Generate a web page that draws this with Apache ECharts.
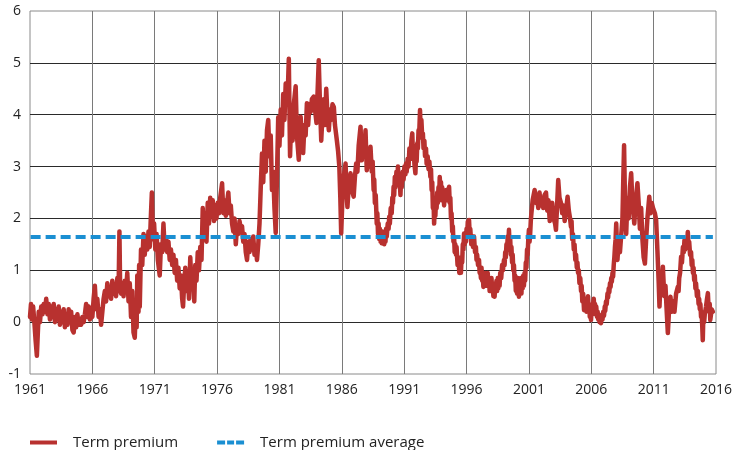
<!DOCTYPE html>
<html>
<head>
<meta charset="utf-8">
<script src="https://cdn.jsdelivr.net/npm/echarts@6/dist/echarts.min.js"></script>
<style>
html,body{margin:0;padding:0;background:#fff;}
#chart{width:736px;height:450px;}
</style>
</head>
<body>
<div id="chart"></div>
<script>
// Axis ticks
var baseYear = 1961;
var endYear = 2016;
var yTicks = [-1, 0, 1, 2, 3, 4, 5, 6];
var seriesNames = ['Term premium', 'Term premium average'];

// Term premium average level
var averageValue = 1.64;
var averageSpan = [1961.05, 2015.75];

// Term premium series: [year, percentage points]
var termPremium = [
[1961.00,0.10],[1961.08,0.35],[1961.15,0.05],[1961.25,0.30],[1961.35,0.00],[1961.45,-0.35],[1961.55,-0.65],[1961.62,-0.25],[1961.70,0.20],[1961.80,0.00],
[1961.90,0.30],[1962.00,0.15],[1962.10,0.35],[1962.20,0.20],[1962.30,0.45],[1962.40,0.15],[1962.50,0.35],[1962.60,0.05],[1962.70,0.30],[1962.80,0.10],
[1962.90,0.35],[1963.00,0.00],[1963.10,0.25],[1963.20,0.05],[1963.30,0.30],[1963.40,-0.05],[1963.50,0.20],[1963.60,0.00],[1963.70,0.25],[1963.80,-0.10],
[1963.90,0.10],[1964.00,-0.05],[1964.10,0.25],[1964.20,0.05],[1964.30,0.20],[1964.40,-0.15],[1964.50,-0.20],[1964.60,0.10],[1964.70,-0.10],[1964.80,0.15],
[1964.90,-0.05],[1965.00,0.05],[1965.10,-0.05],[1965.20,0.10],[1965.30,0.00],[1965.40,0.15],[1965.50,0.35],[1965.60,0.10],[1965.70,0.30],[1965.80,0.05],
[1965.90,0.20],[1966.00,0.10],[1966.10,0.45],[1966.20,0.70],[1966.30,0.25],[1966.40,0.45],[1966.50,0.10],[1966.60,0.25],[1966.70,-0.05],[1966.80,0.20],
[1966.90,0.45],[1967.00,0.60],[1967.10,0.40],[1967.20,0.75],[1967.30,0.50],[1967.40,0.65],[1967.50,0.45],[1967.60,0.80],[1967.70,0.55],[1967.80,0.70],
[1967.90,0.50],[1968.00,0.85],[1968.10,0.60],[1968.17,1.75],[1968.22,0.80],[1968.30,0.55],[1968.40,0.75],[1968.50,0.50],[1968.60,0.80],[1968.70,0.60],
[1968.80,0.95],[1968.90,0.40],[1969.00,0.75],[1969.10,0.10],[1969.20,0.60],[1969.30,-0.20],[1969.40,-0.30],[1969.50,0.40],[1969.55,-0.10],[1969.60,0.90],
[1969.70,0.20],[1969.75,1.10],[1969.80,0.30],[1969.90,1.40],[1970.00,1.10],[1970.10,1.70],[1970.20,1.30],[1970.30,1.65],[1970.40,1.40],[1970.50,1.75],
[1970.60,1.45],[1970.70,2.10],[1970.77,2.50],[1970.85,1.60],[1970.95,1.90],[1971.05,1.40],[1971.15,1.70],[1971.25,1.20],[1971.40,0.90],[1971.50,1.50],
[1971.60,1.35],[1971.70,1.90],[1971.80,1.40],[1971.90,1.60],[1972.00,1.35],[1972.10,1.55],[1972.20,1.20],[1972.30,1.40],[1972.40,1.10],[1972.50,1.30],
[1972.60,0.95],[1972.70,1.20],[1972.80,0.80],[1972.90,1.05],[1973.00,0.65],[1973.10,0.90],[1973.20,0.45],[1973.27,0.30],[1973.35,0.70],[1973.45,1.05],
[1973.55,0.60],[1973.65,0.95],[1973.75,0.45],[1973.85,1.25],[1973.95,0.70],[1974.05,1.00],[1974.17,0.40],[1974.25,1.10],[1974.35,0.80],[1974.45,1.35],
[1974.55,1.00],[1974.65,1.45],[1974.75,1.20],[1974.85,2.20],[1974.95,1.70],[1975.05,2.10],[1975.15,1.55],[1975.25,2.30],[1975.35,1.90],[1975.45,2.40],
[1975.55,2.05],[1975.65,2.35],[1975.75,1.95],[1975.85,2.25],[1975.95,2.00],[1976.05,2.30],[1976.15,2.10],[1976.25,2.40],[1976.40,2.68],[1976.50,2.10],
[1976.60,2.35],[1976.70,2.05],[1976.80,2.30],[1976.90,2.50],[1977.00,2.10],[1977.10,2.25],[1977.20,1.90],[1977.30,1.75],[1977.40,2.00],[1977.50,1.50],
[1977.60,1.85],[1977.70,1.70],[1977.80,1.95],[1977.90,1.80],[1978.00,1.85],[1978.10,1.55],[1978.20,1.70],[1978.30,1.35],[1978.40,1.20],[1978.50,1.55],
[1978.60,1.35],[1978.70,1.60],[1978.80,1.40],[1978.90,1.65],[1979.00,1.30],[1979.10,1.45],[1979.20,1.20],[1979.30,1.50],[1979.40,1.90],[1979.50,2.60],
[1979.60,3.25],[1979.70,2.70],[1979.80,3.50],[1979.90,2.90],[1980.00,3.70],[1980.10,3.90],[1980.20,3.20],[1980.30,3.60],[1980.40,2.55],[1980.50,2.90],
[1980.60,2.20],[1980.70,1.72],[1980.80,2.80],[1980.90,3.95],[1981.00,3.40],[1981.10,4.10],[1981.20,3.60],[1981.30,4.40],[1981.40,3.90],[1981.50,4.60],
[1981.65,4.30],[1981.75,5.08],[1981.85,3.20],[1981.95,4.00],[1982.05,3.50],[1982.15,4.20],[1982.30,4.55],[1982.40,3.60],[1982.55,3.13],[1982.65,3.90],
[1982.70,3.96],[1982.80,3.50],[1982.90,3.26],[1983.00,3.80],[1983.10,3.60],[1983.20,4.22],[1983.30,3.80],[1983.40,4.20],[1983.50,4.05],[1983.60,4.30],
[1983.75,4.35],[1983.85,4.10],[1983.97,3.84],[1984.05,4.40],[1984.15,5.05],[1984.25,4.20],[1984.35,3.50],[1984.45,4.00],[1984.55,4.30],[1984.65,3.80],
[1984.75,4.50],[1984.85,4.00],[1984.96,3.70],[1985.05,4.10],[1985.15,3.90],[1985.25,4.20],[1985.36,4.15],[1985.45,3.80],[1985.60,3.51],[1985.70,3.30],
[1985.80,3.00],[1985.88,2.40],[1985.95,1.71],[1986.05,2.40],[1986.15,2.80],[1986.30,3.06],[1986.38,2.50],[1986.45,2.22],[1986.55,2.60],[1986.70,2.87],
[1986.80,2.55],[1986.95,2.42],[1987.05,2.80],[1987.15,3.06],[1987.25,2.90],[1987.35,3.40],[1987.50,3.77],[1987.60,3.12],[1987.70,3.50],[1987.80,3.30],
[1987.90,3.70],[1988.00,2.93],[1988.10,3.20],[1988.20,3.00],[1988.30,3.38],
[1988.40,2.90],[1988.47,3.10],[1988.55,2.55],[1988.60,2.75],[1988.65,2.30],[1988.72,2.45],[1988.80,1.90],[1988.85,2.10],[1988.90,1.70],[1988.95,1.90],
[1989.00,1.60],[1989.05,1.80],[1989.10,1.55],[1989.15,1.70],[1989.20,1.52],[1989.25,1.75],[1989.30,1.55],[1989.35,1.70],[1989.40,1.50],[1989.45,1.65],
[1989.50,1.55],[1989.55,1.80],[1989.60,1.65],[1989.68,1.90],[1989.75,1.80],[1989.80,2.03],[1989.85,1.90],[1989.92,2.20],[1990.00,2.10],[1990.05,2.40],
[1990.10,2.30],[1990.15,2.61],[1990.20,2.45],[1990.25,2.80],[1990.30,2.60],[1990.38,2.90],[1990.45,2.75],[1990.50,3.00],[1990.55,2.70],[1990.62,2.85],
[1990.70,2.45],[1990.75,2.75],[1990.80,2.60],[1990.88,2.90],[1990.95,2.75],[1991.02,3.00],[1991.10,2.85],[1991.15,3.06],[1991.20,2.90],[1991.28,3.15],
[1991.35,3.00],[1991.42,3.35],[1991.50,3.15],[1991.58,3.50],[1991.65,3.64],[1991.70,3.25],[1991.75,3.40],[1991.82,3.05],[1991.90,2.87],[1991.95,3.20],
[1992.00,3.10],[1992.05,3.45],[1992.10,3.35],[1992.15,3.70],[1992.20,3.60],[1992.27,4.09],[1992.32,3.70],[1992.38,3.90],[1992.45,3.55],[1992.50,3.64],
[1992.55,3.35],[1992.62,3.50],[1992.67,3.20],[1992.75,3.35],[1992.80,3.05],[1992.88,3.20],[1992.95,2.95],[1993.02,3.10],[1993.10,2.80],[1993.15,2.95],
[1993.20,2.55],[1993.25,2.70],[1993.30,2.20],[1993.35,2.40],[1993.40,1.90],[1993.45,2.20],[1993.50,2.05],[1993.55,2.35],[1993.60,2.20],[1993.65,2.50],
[1993.70,2.30],[1993.75,2.60],[1993.80,2.40],[1993.85,2.80],[1993.90,2.55],[1993.95,2.70],[1994.00,2.35],[1994.05,2.60],[1994.10,2.40],[1994.15,2.55],
[1994.20,2.25],[1994.25,2.50],[1994.30,2.35],[1994.38,2.55],[1994.45,2.35],[1994.52,2.50],[1994.60,2.61],[1994.65,2.30],[1994.70,2.40],[1994.75,2.00],
[1994.80,2.10],[1994.85,1.75],[1994.90,1.85],[1994.95,1.55],[1995.00,1.65],[1995.05,1.35],[1995.10,1.50],[1995.15,1.30],[1995.20,1.45],[1995.28,1.10],
[1995.35,1.25],[1995.42,0.95],[1995.50,1.10],[1995.55,0.95],[1995.60,1.25],[1995.65,1.15],[1995.70,1.50],[1995.75,1.40],[1995.80,1.71],[1995.85,1.50],
[1995.90,1.65],[1995.95,1.55],[1996.00,1.80],[1996.05,1.70],[1996.10,1.94],[1996.15,1.80],[1996.20,1.97],[1996.25,1.70],[1996.30,1.80],[1996.38,1.50],
[1996.45,1.65],[1996.52,1.45],[1996.60,1.65],[1996.68,1.35],[1996.75,1.45],[1996.80,1.20],[1996.85,1.30],[1996.92,1.10],[1997.00,1.20],[1997.05,0.95],
[1997.10,1.05],[1997.15,0.85],[1997.20,1.05],[1997.25,0.80],[1997.30,0.90],[1997.35,0.68],[1997.40,0.85],[1997.45,0.70],[1997.50,0.95],[1997.55,0.75],
[1997.60,0.90],[1997.65,0.70],[1997.70,0.95],[1997.75,0.75],[1997.80,0.85],[1997.85,0.60],[1997.90,0.75],[1997.95,0.60],[1998.00,0.85],[1998.05,0.60],
[1998.10,0.75],[1998.15,0.50],[1998.20,0.65],[1998.25,0.49],[1998.30,0.75],[1998.35,0.60],[1998.40,0.80],[1998.45,0.60],[1998.50,0.85],[1998.55,0.65],
[1998.60,0.80],[1998.65,0.70],[1998.70,0.95],[1998.78,0.85],[1998.85,1.10],[1998.92,1.00],[1999.00,1.20],[1999.05,1.10],[1999.10,1.35],[1999.15,1.25],
[1999.20,1.50],[1999.25,1.40],[1999.30,1.65],[1999.35,1.50],[1999.40,1.78],[1999.45,1.50],[1999.50,1.60],[1999.55,1.30],[1999.60,1.45],[1999.65,1.15],
[1999.70,1.30],[1999.75,1.00],[1999.80,1.10],[1999.85,0.80],[1999.90,0.90],[1999.95,0.60],[2000.00,0.75],[2000.05,0.55],[2000.10,0.85],[2000.15,0.60],
[2000.20,0.49],[2000.25,0.75],[2000.30,0.60],[2000.35,0.85],[2000.40,0.55],[2000.45,0.80],[2000.50,0.65],[2000.55,0.90],[2000.60,0.70],[2000.65,0.95],
[2000.70,0.80],[2000.75,1.15],[2000.80,1.05],[2000.85,1.40],[2000.90,1.30],[2000.95,1.60],[2001.00,1.78],[2001.05,1.55],[2001.10,1.70],[2001.15,1.95],
[2001.20,2.10],[2001.30,2.35],[2001.46,2.55],[2001.55,2.30],[2001.65,2.45],[2001.75,2.20],[2001.85,2.50],[2001.95,2.25],[2002.05,2.40],
[2002.15,2.20],[2002.25,2.45],[2002.37,2.50],[2002.47,2.15],[2002.57,2.35],[2002.67,1.95],[2002.77,2.10],[2002.87,2.30],[2002.97,2.00],[2003.10,1.90],
[2003.17,1.78],[2003.25,2.20],[2003.35,2.74],[2003.45,2.40],[2003.57,2.30],[2003.67,2.10],[2003.77,2.25],[2003.87,1.95],[2004.00,2.20],[2004.10,2.42],
[2004.20,2.15],[2004.30,2.00],[2004.37,1.84],[2004.42,1.95],[2004.47,1.60],[2004.53,1.70],[2004.60,1.40],[2004.66,1.50],[2004.72,1.20],[2004.78,1.30],
[2004.84,1.05],[2004.89,1.15],[2004.94,0.95],[2005.00,1.00],[2005.05,0.75],[2005.12,0.85],[2005.18,0.60],[2005.23,0.70],[2005.28,0.40],[2005.35,0.55],
[2005.42,0.23],[2005.47,0.40],[2005.52,0.30],[2005.57,0.45],[2005.62,0.20],[2005.68,0.35],[2005.74,0.50],[2005.79,0.25],[2005.84,0.35],[2005.88,0.10],
[2005.92,0.20],[2005.98,0.04],[2006.03,0.25],[2006.08,0.15],[2006.14,0.35],[2006.20,0.45],[2006.25,0.20],[2006.30,0.35],[2006.35,0.15],[2006.40,0.30],
[2006.46,0.10],[2006.51,0.20],[2006.56,0.05],[2006.61,0.15],[2006.66,0.00],[2006.72,0.10],[2006.78,-0.02],[2006.84,0.10],[2006.90,0.05],[2006.96,0.20],
[2007.02,0.12],[2007.08,0.30],[2007.12,0.22],[2007.18,0.40],[2007.24,0.35],[2007.30,0.55],[2007.35,0.48],[2007.40,0.65],[2007.45,0.58],[2007.50,0.75],
[2007.55,0.68],[2007.60,0.85],[2007.65,0.78],[2007.70,0.95],[2007.75,0.88],[2007.80,1.10],[2007.85,1.25],[2007.90,1.45],[2007.95,1.60],[2008.00,1.90],
[2008.10,1.20],[2008.20,1.60],[2008.30,1.35],[2008.40,1.33],[2008.50,2.00],[2008.57,2.80],[2008.63,3.41],[2008.70,2.40],[2008.80,1.70],[2008.90,2.40],
[2009.00,2.00],[2009.10,2.60],[2009.20,2.87],[2009.30,2.30],[2009.45,1.90],[2009.55,2.30],[2009.70,2.68],[2009.80,2.30],[2009.90,1.80],[2010.00,2.20],
[2010.10,1.60],[2010.20,1.25],[2010.30,1.13],[2010.40,1.60],[2010.50,2.00],[2010.65,2.42],[2010.75,2.10],[2010.85,2.30],[2010.95,2.20],[2011.10,2.10],
[2011.20,1.97],[2011.30,1.40],[2011.40,0.80],[2011.47,0.30],[2011.55,0.80],[2011.65,0.60],[2011.74,1.07],[2011.85,0.50],[2011.95,0.70],[2012.05,0.20],
[2012.14,-0.21],[2012.25,0.30],[2012.35,0.49],[2012.45,0.20],[2012.55,0.40],[2012.67,0.20],[2012.80,0.55],[2012.94,0.68],[2013.00,0.60],[2013.05,0.85],
[2013.12,0.95],[2013.20,1.26],[2013.27,1.15],[2013.35,1.45],[2013.42,1.35],[2013.47,1.58],[2013.53,1.40],[2013.60,1.55],[2013.67,1.45],[2013.74,1.74],
[2013.80,1.45],[2013.85,1.55],[2013.92,1.30],[2014.00,1.35],[2014.05,1.10],[2014.10,1.20],[2014.15,0.95],[2014.20,1.05],[2014.25,0.81],[2014.30,0.90],
[2014.35,0.65],[2014.40,0.75],[2014.47,0.50],[2014.55,0.60],[2014.60,0.35],[2014.65,0.45],[2014.70,0.25],[2014.75,0.35],[2014.80,0.10],[2014.85,0.20],
[2014.90,-0.10],[2014.94,-0.35],[2014.98,0.05],[2015.05,0.00],[2015.10,0.15],[2015.20,0.30],[2015.28,0.45],[2015.35,0.56],[2015.40,0.30],[2015.45,0.20],
[2015.50,0.35],[2015.54,0.04],[2015.60,0.15],[2015.65,0.25],[2015.75,0.20]
];

var FONT = "'Open Sans', 'DejaVu Sans', sans-serif";
var RED = '#b8312f';
var BLUE = '#1b8fd2';
var chart = echarts.init(document.getElementById('chart'), null, {renderer: 'canvas'});

function toX(year) { return year - baseYear; }

var premiumData = termPremium.map(function (p) { return [toX(p[0]), p[1]]; });
var averageData = averageSpan.map(function (y) { return [toX(y), averageValue]; });

chart.setOption({
  animation: false,
  backgroundColor: '#ffffff',
  grid: {
    left: 30, right: 20, top: 11, bottom: 76,
    show: true, borderColor: '#8a8a8a', borderWidth: 1, backgroundColor: 'transparent'
  },
  legend: {
    left: 30, top: 435, padding: 0,
    itemWidth: 27, itemHeight: 4, itemGap: 39,
    data: [
      {name: seriesNames[0], icon: 'rect', itemStyle: {color: RED}},
      {name: seriesNames[1], icon: 'path://M0,0h8v4h-8z M10,0h7v4h-7z M19,0h8v4h-8z', itemStyle: {color: BLUE}}
    ],
    textStyle: {fontFamily: FONT, fontSize: 15, color: '#222', padding: [0, 0, 0, 11]}
  },
  xAxis: {
    type: 'value',
    min: 0, max: endYear - baseYear, interval: 5,
    axisLine: {show: false},
    axisTick: {show: false},
    axisLabel: {
      fontFamily: FONT, fontSize: 14, color: '#222', margin: 9,
      formatter: function (v) { return String(v + baseYear); }
    },
    splitLine: {show: true, showMinLine: false, showMaxLine: false, lineStyle: {color: '#7a7a7a', width: 1}}
  },
  yAxis: {
    type: 'value',
    min: yTicks[0], max: yTicks[yTicks.length - 1], interval: 1,
    axisLine: {show: false},
    axisTick: {show: false},
    axisLabel: {fontFamily: FONT, fontSize: 14, color: '#222', margin: 9},
    splitLine: {show: true, showMinLine: false, showMaxLine: false, lineStyle: {color: '#2a2a2a', width: 1}}
  },
  series: [
    {
      name: seriesNames[0],
      type: 'line',
      data: premiumData,
      showSymbol: false, symbol: 'none',
      lineStyle: {color: RED, width: 4.5, join: 'round', cap: 'round'},
      itemStyle: {color: RED},
      z: 3
    },
    {
      name: seriesNames[1],
      type: 'line',
      data: averageData,
      showSymbol: false, symbol: 'none',
      lineStyle: {color: BLUE, width: 4, type: [10, 5]},
      itemStyle: {color: BLUE},
      z: 4
    }
  ]
});
</script>
</body>
</html>
